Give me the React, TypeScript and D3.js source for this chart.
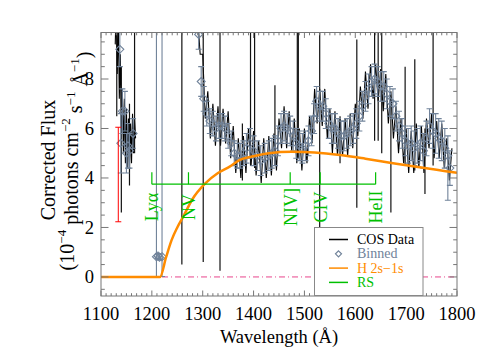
import React from 'react';
import * as d3 from 'd3';

// COS spectrum, main segment (1290-1790 A every 5 A)
const cosStart = 1290;
const cosStep = 5;
const cosFlux = [
  10.5, 9.0, 9.0, 6.4, 7.5, 5.6, 7.0, 5.3, 6.9, 5.3,
  6.8, 5.4, 6.7, 4.8, 6.1, 4.2, 5.6, 4.0, 5.7, 4.2,
  6.0, 4.5, 5.9, 4.1, 5.5, 3.8, 5.6, 4.0, 5.7, 4.1,
  5.8, 4.3, 6.4, 5.2, 6.9, 5.2, 6.7, 5.1, 6.4, 4.6,
  6.0, 4.3, 6.0, 4.6, 6.5, 5.4, 7.6, 6.2, 7.6, 6.1,
  7.6, 5.6, 6.8, 5.0, 6.7, 4.9, 6.4, 4.9, 6.4, 4.9,
  6.6, 5.2, 7.0, 5.7, 7.7, 6.4, 8.3, 6.8, 8.6, 7.2,
  8.6, 7.1, 8.4, 6.7, 8.2, 6.2, 7.5, 5.6, 6.9, 5.0,
  6.4, 4.6, 6.0, 4.2, 5.9, 4.2, 6.2, 4.4, 6.1, 4.2,
  6.4, 5.2, 6.6, 4.8, 6.3, 4.8, 6.2, 4.4, 5.6, 3.9,
  5.2,
];

// COS spectrum, short blue segment (1128-1168 A every 2 A)
const cosLeftStart = 1128;
const cosLeftStep = 2;
const cosLeftFlux = [
  9.4, 11, 8.2, 10.5, 7.2, 9.0, 6.0, 7.6, 5.0, 7.2,
  4.6, 6.8, 4.4, 6.4, 4.4, 6.2, 4.6, 6.6, 5.0, 6.4, 5.6,
];

// narrow spikes in the data
const spikeWave = [1131, 1140, 1156, 1166, 1259, 1301, 1334, 1378, 1394, 1402, 1442, 1486, 1488, 1530, 1570, 1603, 1638, 1645, 1652, 1670, 1698, 1717, 1737, 1753];
const spikeLo = [6.5, 2.6, 3.7, 5.0, 0.5, 0.6, 0.25, 3.9, 4.5, 4.4, 4.5, 4.8, 4.8, 1.8, 4.6, 2.8, 5.5, 5.5, 5.0, 2.6, 4.5, 4.3, 3.35, 4.5];
const spikeHi = [11, 8.5, 7.0, 11, 11, 11, 11, 6.2, 11, 11, 7.75, 11, 11, 11, 6.5, 9.6, 11, 11, 11, 7.0, 8.5, 8.8, 6.0, 11];

// binned points
const binWave = [
  1137, 1139, 1142, 1147, 1150, 1153, 1156, 1163,
  1209, 1212, 1215, 1220,
  1292, 1297, 1302, 1308, 1314, 1320, 1326, 1332, 1338, 1344,
  1350, 1356, 1362, 1368, 1374, 1380, 1386, 1393, 1400, 1407,
  1414, 1422, 1430, 1436, 1442, 1448, 1454, 1460, 1466, 1472,
  1478, 1484, 1490, 1496, 1502, 1508, 1514, 1519, 1524, 1530,
  1536, 1542, 1548, 1554, 1560, 1566, 1572, 1578, 1584, 1590,
  1596, 1602, 1608, 1614, 1620, 1626, 1632, 1638, 1644, 1650,
  1656, 1662, 1668, 1674, 1680, 1686, 1692, 1698, 1704, 1710,
  1716, 1722, 1728, 1734, 1740, 1746, 1752, 1758, 1764, 1770,
  1776, 1782, 1786,
];
const binFlux = [
  9.2, 5.4, 6.7, 6.7, 5.0, 5.3, 5.1, 5.8,
  0.82, 0.85, 0.8, 0.82,
  9.8, 7.9, 7.2, 6.6, 6.3, 6.2, 6.0, 6.1, 6.1, 6.0,
  5.7, 5.4, 5.0, 4.9, 4.9, 5.0, 5.2, 5.4, 5.1, 4.9,
  4.7, 4.8, 4.9, 5.0, 5.1, 5.5, 6.0, 6.1, 6.0, 5.9,
  5.7, 5.4, 5.3, 5.2, 5.3, 5.5, 5.9, 6.4, 7.1, 6.9,
  6.9, 6.6, 6.2, 6.0, 6.0, 5.8, 5.7, 5.7, 5.8, 5.9,
  6.0, 6.2, 6.5, 6.9, 7.3, 7.6, 7.9, 8.0, 7.9, 7.7,
  7.7, 7.4, 7.1, 7.0, 6.5, 6.1, 5.8, 5.5, 5.3, 5.4,
  5.2, 5.3, 5.4, 5.1, 5.6, 6.1, 5.9, 5.8, 5.6, 5.5,
  5.2, 4.9, 4.4,
];
const binErrLo = [
  0.7, 1.2, 0.9, 0.8, 0.8, 0.9, 0.7, 0.6,
  0.8, 0.1, 0.1, 0.8,
  0.6, 0.6, 0.5, 0.5, 0.5, 0.5, 0.5, 0.5, 0.5, 0.5,
  0.5, 0.5, 0.5, 0.5, 0.5, 0.5, 0.6, 0.6, 0.6, 0.6,
  0.6, 0.6, 0.6, 0.6, 0.6, 0.6, 0.6, 0.6, 0.6, 0.6,
  0.6, 0.6, 0.6, 0.6, 0.6, 0.6, 0.6, 0.6, 0.6, 0.6,
  0.6, 0.6, 0.6, 0.6, 0.6, 0.6, 0.6, 0.6, 0.6, 0.6,
  0.6, 0.6, 0.6, 0.6, 0.6, 0.6, 0.6, 0.6, 0.6, 0.6,
  0.6, 0.6, 0.6, 0.6, 0.6, 0.6, 0.6, 0.6, 0.7, 0.7,
  0.7, 0.7, 0.7, 0.7, 0.7, 0.7, 0.7, 0.8, 0.8, 0.8,
  0.8, 1.8, 0.7,
];
const binErrHi = [
  0.7, 1.2, 0.9, 0.8, 0.8, 0.9, 0.7, 0.6,
  10, 0.1, 0.1, 10,
  0.6, 0.6, 0.5, 0.5, 0.5, 0.5, 0.5, 0.5, 0.5, 0.5,
  0.5, 0.5, 0.5, 0.5, 0.5, 0.5, 0.6, 0.6, 0.6, 0.6,
  0.6, 0.6, 0.6, 0.6, 0.6, 0.6, 0.6, 0.6, 0.6, 0.6,
  0.6, 0.6, 0.6, 0.6, 0.6, 0.6, 0.6, 0.6, 0.6, 0.6,
  0.6, 0.6, 0.6, 0.6, 0.6, 0.6, 0.6, 0.6, 0.6, 0.6,
  0.6, 0.6, 0.6, 0.6, 0.6, 0.6, 0.6, 0.6, 0.6, 0.6,
  0.6, 0.6, 0.6, 0.6, 0.6, 0.6, 0.6, 0.6, 0.7, 0.7,
  0.7, 0.7, 0.7, 0.7, 0.7, 0.7, 0.7, 0.8, 0.8, 0.8,
  0.8, 0.8, 0.7,
];

// H 2s-1s two photon continuum
const h2sWave = [1100, 1216, 1228, 1239, 1250, 1262, 1280, 1304, 1330, 1353, 1373, 1400, 1430, 1475, 1520, 1570, 1620, 1668, 1720, 1760, 1800];
const h2sFlux = [0, 0, 0.8, 1.5, 2.0, 2.45, 3.15, 3.76, 4.2, 4.46, 4.73, 4.88, 5.0, 5.06, 5.03, 4.93, 4.78, 4.62, 4.45, 4.33, 4.21];

// RS line markers
const rsWave = [1200, 1272, 1472, 1531, 1640];
const rsLabel = ['Lyα', 'NV', 'NIV]', 'CIV', 'HeII'];
const rsLevel = 3.75;
const rsTickTop = 4.23;
const rsLabelAt = 2.83;

// representative error bar
const redWave = 1134;
const redLo = 2.23;
const redHi = 6.05;

const xTicks = [1100, 1200, 1300, 1400, 1500, 1600, 1700, 1800];
const yTicks = [0, 2, 4, 6, 8];

const legendLabels = ['COS Data', 'Binned', 'H 2s−1s', 'RS'];

const W = 488;
const H = 360;
const L = 101, R = 457, T = 32.5, B = 296;
const font = "'Liberation Serif', 'Times New Roman', Times, 'DejaVu Serif', serif";
const axisColor = '#777';
const binColor = '#71839a';
const orange = '#ff8c00';
const green = '#00c000';

export default function App() {
  const x = d3.scaleLinear().domain([1100, 1800]).range([L, R]);
  const y = d3.scaleLinear().domain([-0.77, 9.88]).range([B, T]);

  const line = d3.line<[number, number]>().x(d => x(d[0])).y(d => y(d[1]));
  const cosMain = line(cosFlux.map((f, i) => [cosStart + i * cosStep, f]));
  const cosLeft = line(cosLeftFlux.map((f, i) => [cosLeftStart + i * cosLeftStep, f]));
  const h2s = d3.line<[number, number]>().x(d => x(d[0])).y(d => y(d[1])).curve(d3.curveMonotoneX)(
    h2sWave.map((w, i) => [w, h2sFlux[i]])
  );

  const xMinor = d3.range(1100, 1801, 10);
  const yMinor = d3.range(-0.5, 9.9, 0.5);
  const r = 4;
  const legendColors = ['#000', binColor, orange, green];
  const rowY = [239.5, 253.8, 268.1, 282.4];

  return (
    <svg width={W} height={H} style={{ position: 'absolute', left: 0, top: 0, fontFamily: font }}>
      <defs>
        <clipPath id="plot">
          <rect x={L} y={T} width={R - L} height={B - T} />
        </clipPath>
      </defs>

      <g clipPath="url(#plot)">
        <line x1={x(1220)} x2={R} y1={y(0)} y2={y(0)} stroke="#e8458b" strokeWidth={1} strokeDasharray="6,3,1,3" />

        <path d={cosLeft ?? ''} fill="none" stroke="#000" strokeWidth={1.1} />
        <path d={cosMain ?? ''} fill="none" stroke="#000" strokeWidth={1.1} />
        {spikeWave.map((w, i) => (
          <line key={'s' + i} x1={x(w)} x2={x(w)} y1={y(spikeLo[i])} y2={y(spikeHi[i])} stroke="#111" strokeWidth={1.2} />
        ))}

        {binWave.map((w, i) => {
          const cx = x(w);
          const cy = y(binFlux[i]);
          const lo = y(binFlux[i] - binErrLo[i]);
          const hi = y(binFlux[i] + binErrHi[i]);
          return (
            <g key={'b' + i} stroke={binColor} strokeWidth={1.1} fill="none">
              <line x1={cx} x2={cx} y1={lo} y2={hi} />
              <line x1={cx - 3} x2={cx + 3} y1={lo} y2={lo} />
              <line x1={cx - 3} x2={cx + 3} y1={hi} y2={hi} />
              <path d={`M${cx},${cy - r}L${cx + r},${cy}L${cx},${cy + r}L${cx - r},${cy}Z`} />
            </g>
          );
        })}

        <path d={h2s ?? ''} fill="none" stroke={orange} strokeWidth={2.5} />

        <g stroke={green} strokeWidth={1.2}>
          <line x1={x(rsWave[0])} x2={x(rsWave[rsWave.length - 1])} y1={y(rsLevel)} y2={y(rsLevel)} />
          {rsWave.map((w, i) => (
            <line key={'r' + i} x1={x(w)} x2={x(w)} y1={y(rsLevel)} y2={y(rsTickTop)} />
          ))}
        </g>
        {rsWave.map((w, i) => (
          <text key={'rl' + i} transform={`translate(${x(w)},${y(rsLabelAt)}) rotate(-90)`} textAnchor="middle" dy="0.35em" fontSize={18} fill={green}>
            {rsLabel[i]}
          </text>
        ))}

        <g stroke="#ff0000" strokeWidth={1}>
          <line x1={x(redWave)} x2={x(redWave)} y1={y(redLo)} y2={y(redHi)} />
          <line x1={x(redWave) - 3} x2={x(redWave) + 3} y1={y(redLo)} y2={y(redLo)} />
          <line x1={x(redWave) - 3} x2={x(redWave) + 3} y1={y(redHi)} y2={y(redHi)} />
        </g>
      </g>

      {/* frame and ticks */}
      <g stroke={axisColor} strokeWidth={1} fill="none">
        <rect x={L} y={T} width={R - L} height={B - T} />
        {xMinor.map(v => {
          const major = v % 100 === 0;
          const len = major ? 5.5 : 2.8;
          return (
            <g key={'xm' + v}>
              <line x1={x(v)} x2={x(v)} y1={B} y2={B - len} />
              <line x1={x(v)} x2={x(v)} y1={T} y2={T + len} />
            </g>
          );
        })}
        {yMinor.map(v => {
          const major = Math.abs(v % 2) < 1e-9;
          const len = major ? 7.5 : 3.8;
          return (
            <g key={'ym' + v}>
              <line x1={L} x2={L + len} y1={y(v)} y2={y(v)} />
              <line x1={R} x2={R - len} y1={y(v)} y2={y(v)} />
            </g>
          );
        })}
      </g>

      {xTicks.map(v => (
        <text key={'xt' + v} x={x(v)} y={320} textAnchor="middle" fontSize={18.5} fill="#000">{v}</text>
      ))}
      {yTicks.map(v => (
        <text key={'yt' + v} x={94} y={y(v)} dy="0.35em" textAnchor="end" fontSize={18.5} fill="#000">{v}</text>
      ))}

      <text x={(L + R) / 2} y={343} textAnchor="middle" fontSize={18.5} fill="#000">Wavelength (Å)</text>
      <text transform={`translate(55,160) rotate(-90)`} textAnchor="middle" fontSize={20} fill="#000">Corrected Flux</text>
      <text transform={`translate(74,161) rotate(-90)`} textAnchor="middle" fontSize={20} fill="#000">
        (10<tspan fontSize={13} dy="-0.6em">−4</tspan>
        <tspan dy="0.6em"> photons cm</tspan>
        <tspan fontSize={13} dy="-0.6em">−2</tspan>
        <tspan dy="0.6em"> s</tspan>
        <tspan fontSize={13} dy="-0.6em">−1</tspan>
        <tspan dy="0.6em"> Å</tspan>
        <tspan fontSize={13} dy="-0.6em">−1</tspan>
        <tspan dy="0.6em">)</tspan>
      </text>

      {/* legend */}
      <g>
        <rect x={314.5} y={227.5} width={108.5} height={68} fill="#fff" stroke="#888" strokeWidth={1} />
        {legendLabels.map((label, i) => (
          <g key={'lg' + i}>
            {i === 1 ? (
              <path d={`M338.5,${rowY[i] - 3}L341.5,${rowY[i]}L338.5,${rowY[i] + 3}L335.5,${rowY[i]}Z`} fill="none" stroke={binColor} strokeWidth={1.2} />
            ) : (
              <line x1={329} x2={348} y1={rowY[i]} y2={rowY[i]} stroke={legendColors[i]} strokeWidth={1.5} />
            )}
            <text x={357} y={rowY[i]} dy="0.33em" fontSize={14} fill={legendColors[i]}>{label}</text>
          </g>
        ))}
      </g>
    </svg>
  );
}
